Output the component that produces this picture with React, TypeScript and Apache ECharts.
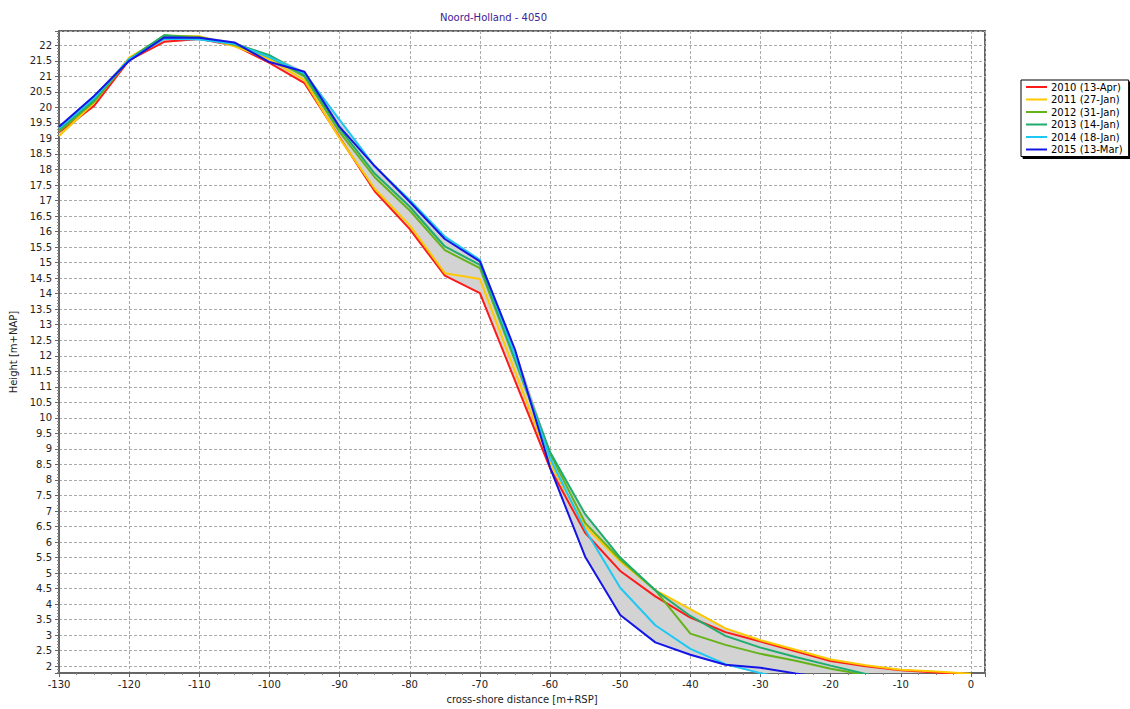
import React, { useEffect, useRef } from "react";
import * as echarts from "echarts";

const distances = [-130, -125, -120, -115, -110, -105, -100, -95, -90, -85, -80, -75, -70, -65, -60, -55, -50, -45, -40, -35, -30, -25, -20, -15, -10, -5, 0];

const h2010 = [19.2, 20.05, 21.52, 22.11, 22.2, 22.0, 21.43, 20.78, 19.03, 17.3, 16.08, 14.58, 14.02, 11.2, 8.38, 6.3, 5.07, 4.25, 3.57, 3.1, 2.8, 2.48, 2.17, 2.0, 1.87, 1.8, 1.72];
const h2011 = [19.08, 20.15, 21.6, 22.27, 22.29, 21.97, 21.55, 20.87, 19.0, 17.38, 16.2, 14.66, 14.47, 11.5, 8.55, 6.5, 5.38, 4.45, 3.84, 3.22, 2.84, 2.53, 2.22, 2.03, 1.89, 1.83, 1.76];
const h2012 = [19.22, 20.18, 21.55, 22.32, 22.27, 22.02, 21.62, 20.99, 19.2, 17.75, 16.68, 15.4, 14.82, 11.84, 8.85, 6.62, 5.44, 4.45, 3.05, 2.69, 2.4, 2.18, 1.92, 1.72, 1.55, 1.4, 1.3];
const h2013 = [19.28, 20.24, 21.55, 22.32, 22.2, 22.05, 21.68, 21.04, 19.32, 17.87, 16.8, 15.52, 14.93, 11.9, 8.9, 6.9, 5.5, 4.45, 3.62, 2.98, 2.6, 2.3, 2.02, 1.75, 1.55, 1.4, 1.3];
const h2014 = [19.33, 20.3, 21.55, 22.21, 22.19, 22.05, 21.62, 21.1, 19.6, 18.1, 17.02, 15.84, 15.09, 12.0, 8.7, 6.4, 4.53, 3.32, 2.56, 2.07, 1.78, 1.55, 1.35, 1.2, 1.1, 1.0, 0.9];
const h2015 = [19.38, 20.37, 21.5, 22.25, 22.24, 22.09, 21.46, 21.15, 19.37, 18.11, 16.96, 15.76, 15.04, 12.2, 8.4, 5.53, 3.65, 2.77, 2.37, 2.05, 1.95, 1.77, 1.6, 1.45, 1.3, 1.2, 1.1];

const seriesNames = ["2010 (13-Apr)", "2011 (27-Jan)", "2012 (31-Jan)", "2013 (14-Jan)", "2014 (18-Jan)", "2015 (13-Mar)"];
const seriesColors = ["#ff1a1a", "#ffc800", "#66b319", "#1fad6e", "#1ec8f2", "#1414e6"];
const allHeights = [h2010, h2011, h2012, h2013, h2014, h2015];

const FONT = "DejaVu Sans";

export default function App() {
  const ref = useRef<HTMLDivElement>(null);
  useEffect(() => {
    if (!ref.current) return;
    const chart = echarts.init(ref.current, undefined, { renderer: "svg" });

    // envelope (min/max over all surveys) per distance
    const envelope = distances.map((x, i) => {
      const vals = allHeights.map((h) => h[i]);
      return [x, Math.min(...vals), Math.max(...vals)];
    });

    const isHalf = (v: number) => Math.abs(v * 2 - Math.round(v * 2)) < 1e-6;

    chart.setOption({
      animation: false,
      backgroundColor: "#ffffff",
      title: {
        text: "Noord-Holland - 4050",
        left: 440,
        top: 12,
        padding: 0,
        textStyle: { fontFamily: FONT, fontSize: 10, fontWeight: "normal", color: "#3d2196" },
      },
      legend: {
        orient: "vertical",
        left: 1021,
        top: 80,
        data: seriesNames,
        icon: "rect",
        itemWidth: 21,
        itemHeight: 2,
        itemGap: 2.5,
        padding: [2, 6, 2, 5],
        backgroundColor: "#ffffff",
        borderColor: "#000000",
        borderWidth: 1,
        borderRadius: 0,
        shadowColor: "rgba(0,0,0,1)",
        shadowBlur: 0,
        shadowOffsetX: 2,
        shadowOffsetY: 2,
        textStyle: { fontFamily: FONT, fontSize: 10, color: "#000000", padding: [0, 0, 0, -1] },
      },
      grid: {
        left: 59,
        top: 31,
        right: 145,
        bottom: 35,
        show: true,
        borderColor: "#666666",
        borderWidth: 2,
      },
      xAxis: {
        type: "value",
        min: -130,
        max: 2,
        minInterval: 10,
        maxInterval: 10,
        splitNumber: 13,
        name: "cross-shore distance [m+RSP]",
        nameLocation: "middle",
        nameGap: 20,
        nameTextStyle: { fontFamily: FONT, fontSize: 10, color: "#222222" },
        axisLine: { show: true, onZero: false, lineStyle: { color: "#666666", width: 2 } },
        axisTick: { show: true, length: 4, lineStyle: { color: "#666666" } },
        minorTick: { show: true, splitNumber: 4, length: 2, lineStyle: { color: "#888888" } },
        axisLabel: {
          fontFamily: FONT,
          fontSize: 10,
          color: "#222222",
          margin: 6,
          showMaxLabel: false,
          formatter: (v: number) => (Math.abs(v % 10) < 1e-6 ? String(v) : ""),
        },
        splitLine: { show: true, lineStyle: { color: "#aaaaaa", type: [3, 2], width: 1 } },
      },
      yAxis: {
        type: "value",
        min: 1.78,
        max: 22.46,
        minInterval: 0.5,
        maxInterval: 0.5,
        splitNumber: 40,
        name: "Height [m+NAP]",
        nameLocation: "middle",
        nameRotate: 90,
        nameGap: 35,
        nameTextStyle: { fontFamily: FONT, fontSize: 10, color: "#222222" },
        axisLine: { show: true, onZero: false, lineStyle: { color: "#666666", width: 2 } },
        axisTick: { show: true, length: 4, lineStyle: { color: "#666666" } },
        minorTick: { show: true, splitNumber: 5, length: 2, lineStyle: { color: "#888888" } },
        axisLabel: {
          fontFamily: FONT,
          fontSize: 10,
          color: "#222222",
          margin: 7,
          showMinLabel: false,
          showMaxLabel: false,
          formatter: (v: number) => (isHalf(v) ? String(v) : ""),
        },
        splitLine: { show: true, lineStyle: { color: "#aaaaaa", type: [3, 2], width: 1 } },
      },
      series: [
        {
          name: "envelope",
          type: "custom",
          silent: true,
          clip: true,
          z: 2,
          data: [0],
          encode: { x: [], y: [] },
          renderItem: (params: any, api: any) => {
            const upper = envelope.map((e) => api.coord([e[0], e[2]]));
            const lowerPts = envelope.map((e) => api.coord([e[0], e[1]])).reverse();
            const cs = params.coordSys;
            return {
              type: "polygon",
              shape: { points: upper.concat(lowerPts) },
              style: { fill: "#d3d3d3", stroke: "#9a9a9a", lineWidth: 0.6 },
              clipPath: {
                type: "rect",
                shape: { x: cs.x, y: cs.y, width: cs.width, height: cs.height },
              },
            };
          },
        },
        ...allHeights.map((h, k) => ({
          name: seriesNames[k],
          type: "line",
          data: distances.map((x, i) => [x, h[i]]),
          symbol: "none",
          color: seriesColors[k],
          lineStyle: { color: seriesColors[k], width: 2 },
          z: 3 + k,
        })),
      ],
    });
    return () => chart.dispose();
  }, []);
  return <div ref={ref} style={{ position: "absolute", left: 0, top: 0, width: 1130, height: 709 }} />;
}
